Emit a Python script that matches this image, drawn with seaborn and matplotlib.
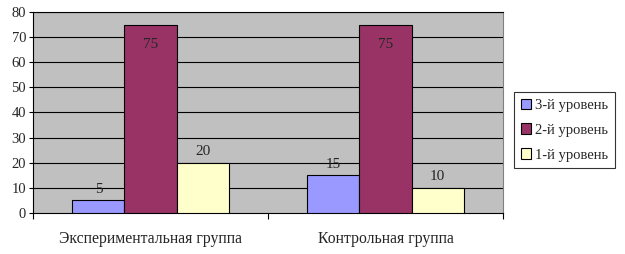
import pandas as pd
import matplotlib
matplotlib.use("Agg")
import matplotlib.pyplot as plt
import seaborn as sns

groups = ["Экспериментальная группа", "Контрольная группа"]
levels = ["3-й уровень", "2-й уровень", "1-й уровень"]
level3 = [5, 15]
level2 = [75, 75]
level1 = [20, 10]
colors = ["#9999FF", "#993366", "#FFFFCC"]

rows = []
for i, g in enumerate(groups):
    for lev, vals in zip(levels, [level3, level2, level1]):
        rows.append({"group": g, "level": lev, "value": vals[i]})
df = pd.DataFrame(rows)

sns.set_style("white")
plt.rcParams["font.family"] = ["Liberation Serif", "DejaVu Serif"]
plt.rcParams["font.size"] = 10

fig = plt.figure(figsize=(6.25, 2.54), dpi=100)
ax = fig.add_axes([33 / 625, 41 / 254, 470 / 625, 201 / 254])
ax.set_facecolor("#C0C0C0")

sns.barplot(data=df, x="group", y="value", hue="level", hue_order=levels,
            palette=colors, width=0.665, gap=0, edgecolor="black",
            linewidth=0.8, saturation=1, ax=ax, zorder=3)

ax.set_ylim(0, 80)
ax.set_xlim(-0.5, 1.5)
ax.set_yticks(range(0, 81, 10))
for y in range(10, 81, 10):
    ax.axhline(y, color="black", linewidth=0.8, zorder=1)
for s in ax.spines.values():
    s.set_color("black")
    s.set_linewidth(0.8)
ax.spines["right"].set_color("#808080")

ax.tick_params(axis="y", length=3, width=0.8, color="black", labelsize=10.5, pad=2, direction="out", left=True)
ax.set_xticks([0, 1])
ax.set_xticklabels(groups)
ax.tick_params(axis="x", length=0, labelsize=11.3, pad=13)
ax.set_xticks([-0.5, 0.5, 1.5], minor=True)
ax.tick_params(axis="x", which="minor", length=4, width=0.8, color="black", bottom=True)
ax.set_xlabel("")
ax.set_ylabel("")

for cont in ax.containers:
    for bar in cont:
        h = bar.get_height()
        x = bar.get_x() + bar.get_width() / 2
        if h > 70:
            ax.annotate(f"{h:g}", (x, h), xytext=(0, -14), textcoords="offset points",
                        ha="center", va="center", fontsize=11, zorder=5)
        else:
            ax.annotate(f"{h:g}", (x, h), xytext=(0, 8), textcoords="offset points",
                        ha="center", va="center", fontsize=11, zorder=5)

ax.legend_.remove()
handles = [plt.Rectangle((0, 0), 1, 1, facecolor=c, edgecolor="black", linewidth=0.8) for c in colors]
leg = fig.legend(handles, levels, loc="upper left", bbox_to_anchor=(514 / 625, 1 - 92 / 254),
                 frameon=True, fancybox=False, edgecolor="black", fontsize=10.5,
                 handlelength=0.7, handleheight=0.7, handletextpad=0.3,
                 labelspacing=0.8, borderpad=0.45, borderaxespad=0)
leg.get_frame().set_linewidth(0.8)

fig.savefig("out.png", dpi=100, facecolor="white")
